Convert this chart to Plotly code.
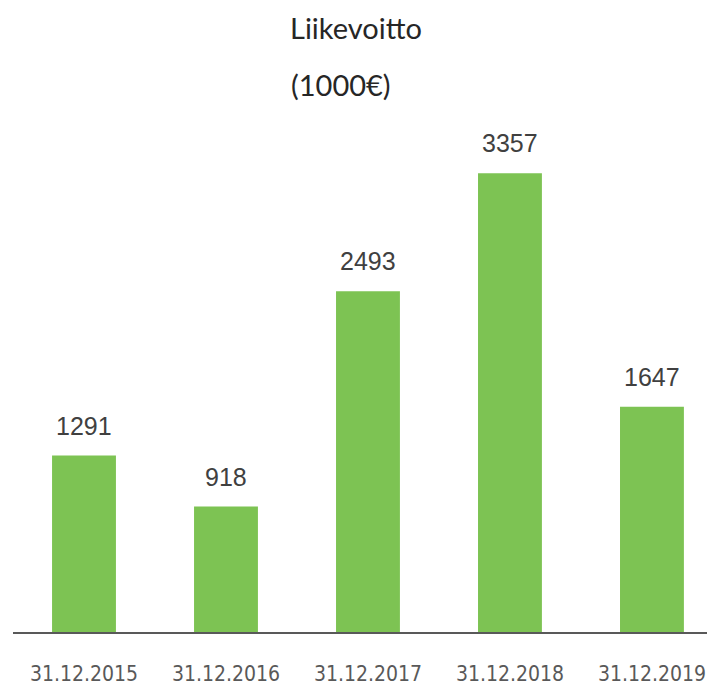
import plotly.graph_objects as go

categories = ["31.12.2015", "31.12.2016", "31.12.2017", "31.12.2018", "31.12.2019"]
values = [1291, 918, 2493, 3357, 1647]
title_line1 = "Liikevoitto"
title_line2 = "(1000€)"

bar_color = "#7DC353"
label_font = "Liberation Sans Narrow, DejaVu Sans Condensed, Roboto, sans-serif"

fig = go.Figure()
fig.add_trace(go.Bar(
    x=list(range(len(categories))), y=values,
    marker=dict(color=bar_color, line=dict(width=0)),
    width=0.45, hoverinfo="skip",
))

annotations = []
for i, v in enumerate(values):
    annotations.append(dict(
        x=i, y=v, xref="x", yref="y", text=str(v), showarrow=False,
        yanchor="middle", yshift=30,
        font=dict(family="Liberation Sans, Arial, sans-serif", size=25, color="#404040"),
    ))

title_font = dict(family="Lato, Noto Sans, sans-serif", size=29, color="#262626")
annotations.append(dict(x=(356 - 13) / 702, y=(632 - 28) / 532, xref="paper", yref="paper",
                        text=title_line1, showarrow=False, xanchor="center", yanchor="middle",
                        font=title_font))
annotations.append(dict(x=(341 - 13) / 702, y=(632 - 85) / 532, xref="paper", yref="paper",
                        text=title_line2, showarrow=False, xanchor="center", yanchor="middle",
                        font=title_font))

fig.update_layout(
    width=707, height=682,
    margin=dict(l=5, r=0, t=92, b=58),
    plot_bgcolor="white", paper_bgcolor="white",
    showlegend=False,
    annotations=annotations,
)

fig.update_xaxes(
    range=[-0.5, 4.444],
    tickmode="array", tickvals=list(range(len(categories))), ticktext=categories,
    showline=True, linecolor="#595959", linewidth=1.5,
    showgrid=False, zeroline=False, ticks="",
    tickfont=dict(family=label_font, size=21, color="#595959"),
    ticklabelstandoff=22,
)
fig.update_yaxes(range=[0, 3892], visible=False, showgrid=False, zeroline=False)

fig.write_html("out.html")
